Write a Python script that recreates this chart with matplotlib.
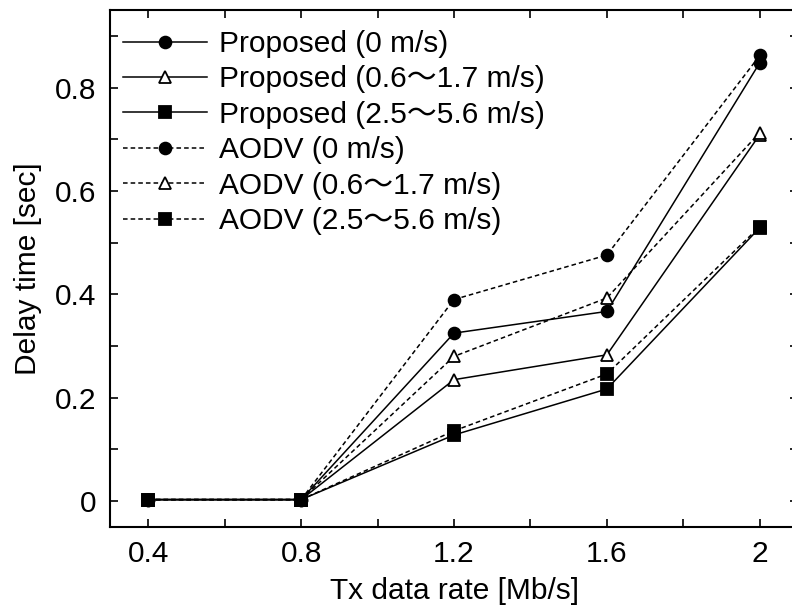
import numpy as np
import matplotlib
matplotlib.use("Agg")
import matplotlib.pyplot as plt

plt.rcParams['font.family'] = ['Liberation Sans', 'Noto Sans CJK JP']

# ── data ─────────────────────────────────────────
x_rate = [0.4, 0.8, 1.2, 1.6, 2.0]

prop_0    = [0.003, 0.003, 0.325, 0.367, 0.848]
prop_low  = [0.003, 0.003, 0.235, 0.283, 0.709]
prop_high = [0.003, 0.003, 0.128, 0.217, 0.529]
aodv_0    = [0.003, 0.003, 0.390, 0.476, 0.862]
aodv_low  = [0.003, 0.003, 0.280, 0.393, 0.713]
aodv_high = [0.003, 0.003, 0.136, 0.246, 0.531]

labels = ["Proposed (0 m/s)", "Proposed (0.6〜1.7 m/s)", "Proposed (2.5〜5.6 m/s)",
          "AODV (0 m/s)", "AODV (0.6〜1.7 m/s)", "AODV (2.5〜5.6 m/s)"]

xticks = [0.4, 0.6, 0.8, 1.0, 1.2, 1.4, 1.6, 1.8, 2.0]
xticklabels = ["0.4", "", "0.8", "", "1.2", "", "1.6", "", "2"]
yticks = [0.0, 0.1, 0.2, 0.3, 0.4, 0.5, 0.6, 0.7, 0.8, 0.9]
yticklabels = ["0", "", "0.2", "", "0.4", "", "0.6", "", "0.8", ""]

# ── plot ─────────────────────────────────────────
fig = plt.figure(figsize=(7.92, 6.12), dpi=100)
ax = fig.add_axes([110/792, 1 - 527/612, 688/792, 517/612])

series = [prop_0, prop_low, prop_high, aodv_0, aodv_low, aodv_high]
markers = ["o", "^", "s", "o", "^", "s"]
faces = ["black", "white", "black", "black", "white", "black"]
styles = ["-", "-", "-", (0, (3, 2)), (0, (3, 2)), (0, (3, 2))]
msizes = [8.5, 9.0, 9.0, 8.5, 9.0, 9.0]

for ys, m, fc, ls, ms, lab in zip(series, markers, faces, styles, msizes, labels):
    ax.plot(x_rate, ys, linestyle=ls, color="black", linewidth=1.1,
            marker=m, markersize=ms, markerfacecolor=fc,
            markeredgecolor="black", markeredgewidth=1.3, label=lab)

ax.set_xlim(0.3, 2.1)
ax.set_ylim(-0.05, 0.95)
ax.set_xticks(xticks)
ax.set_xticklabels(xticklabels)
ax.set_yticks(yticks)
ax.set_yticklabels(yticklabels)
ax.tick_params(direction="in", length=6, width=1.2, labelsize=21.5,
               top=True, right=True, pad=9)
ax.tick_params(axis="y", pad=10)

for sp in ax.spines.values():
    sp.set_linewidth(1.5)

ax.set_xlabel("Tx data rate [Mb/s]", fontsize=21.5, labelpad=7)
ax.set_ylabel("Delay time [sec]", fontsize=21.5, labelpad=9)

ax.legend(loc="upper left", frameon=False, fontsize=21.5, handlelength=2.8,
          handletextpad=0.4, labelspacing=0.25, borderaxespad=0.2,
          bbox_to_anchor=(-0.007, 0.996))

plt.savefig("out.png", dpi=100)
plt.close()
